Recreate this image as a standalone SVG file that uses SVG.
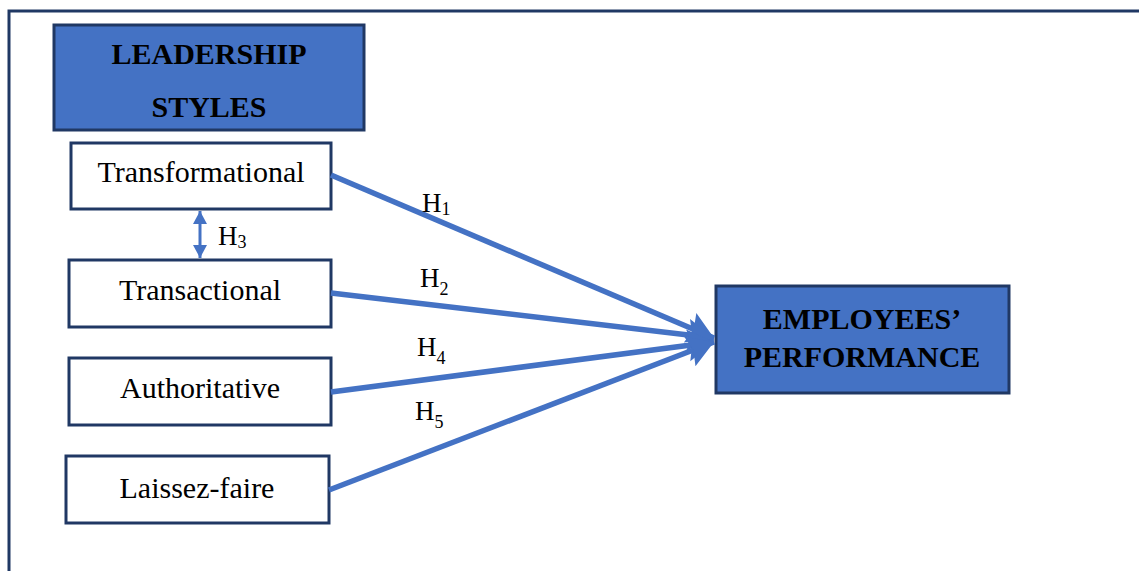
<svg xmlns="http://www.w3.org/2000/svg" width="1139" height="571" viewBox="0 0 1139 571">
<style>
.frame{fill:none;stroke:#203864;stroke-width:3}
.box{fill:#ffffff;stroke:#203864;stroke-width:3}
.hbox{fill:#4472c4;stroke:#203864;stroke-width:3}
.t{font-family:"Liberation Serif","Times New Roman",serif;font-size:30px;fill:#000;text-anchor:middle}
.b{font-family:"Liberation Serif","Times New Roman",serif;font-size:30px;font-weight:bold;fill:#000;text-anchor:middle}
.h{font-family:"Liberation Serif","Times New Roman",serif;font-size:27px;fill:#000}
.sub{font-size:18px}
.c{stroke:#4472c4;stroke-width:5.5;fill:none}
</style>
<defs>
<marker id="ah" markerUnits="userSpaceOnUse" markerWidth="30" markerHeight="40" refX="26" refY="20" orient="auto">
<path d="M0,4 L26,20 L0,36 L4,20 Z" fill="#4472c4"/>
</marker>
<marker id="sh" markerUnits="userSpaceOnUse" markerWidth="14" markerHeight="16" refX="13" refY="7" orient="auto-start-reverse">
<path d="M0,0 L13,7 L0,14 Z" fill="#4472c4"/>
</marker>
</defs>
<path class="frame" d="M9,571 L9,11 L1139,11"/>
<g id="leadership"><rect class="hbox" x="54" y="25" width="310" height="105"/><text class="b" x="209" y="64">LEADERSHIP</text><text class="b" x="209" y="117">STYLES</text></g>
<g id="transformational"><rect class="box" x="71" y="143" width="260" height="66"/><text class="t" x="201" y="182">Transformational</text></g>
<g id="transactional"><rect class="box" x="69" y="260" width="262" height="67"/><text class="t" x="200" y="300">Transactional</text></g>
<g id="authoritative"><rect class="box" x="69" y="358" width="262" height="67"/><text class="t" x="200" y="398">Authoritative</text></g>
<g id="laissez"><rect class="box" x="66" y="456" width="263" height="67"/><text class="t" x="197" y="498">Laissez-faire</text></g>
<g id="performance"><rect class="hbox" x="716" y="286" width="293" height="107"/><text class="b" x="862" y="329">EMPLOYEES’</text><text class="b" x="862" y="367">PERFORMANCE</text></g>
<g id="connectors">
<line class="c" x1="331" y1="175" x2="714" y2="338" marker-end="url(#ah)"/>
<line class="c" x1="331" y1="293" x2="714" y2="338" marker-end="url(#ah)"/>
<line class="c" x1="331" y1="392" x2="714" y2="342" marker-end="url(#ah)"/>
<line class="c" x1="329" y1="490" x2="714" y2="342" marker-end="url(#ah)"/>
<line x1="200" y1="211" x2="200" y2="258" stroke="#4472c4" stroke-width="3" marker-start="url(#sh)" marker-end="url(#sh)"/>
<text class="h" x="422" y="212">H<tspan class="sub" dy="3">1</tspan></text>
<text class="h" x="420" y="287">H<tspan class="sub" dy="8">2</tspan></text>
<text class="h" x="417" y="356">H<tspan class="sub" dy="8">4</tspan></text>
<text class="h" x="415" y="420">H<tspan class="sub" dy="8">5</tspan></text>
<text class="h" x="218" y="245">H<tspan class="sub" dy="3">3</tspan></text>
</g>
</svg>
